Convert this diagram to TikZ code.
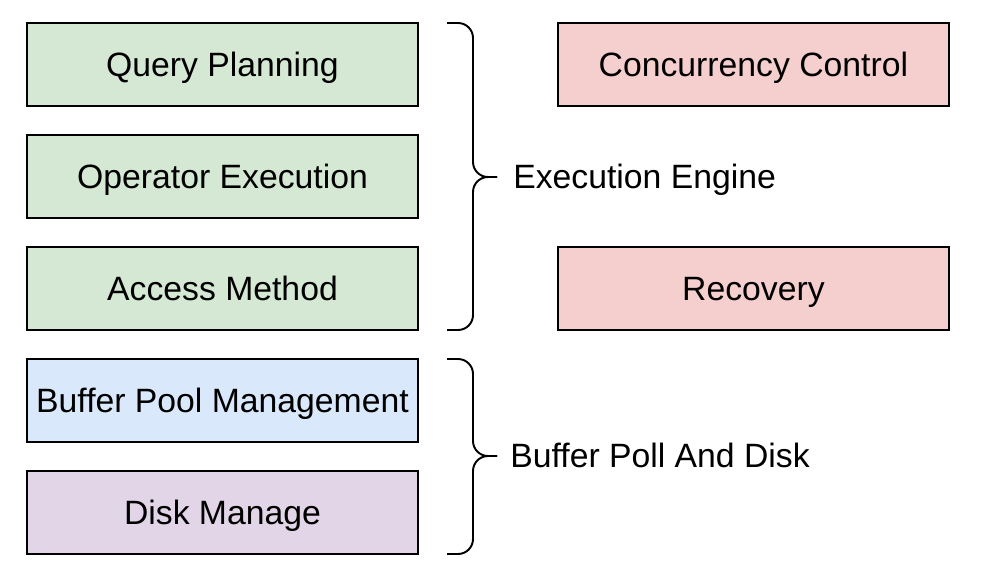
\documentclass[tikz,border=0pt]{standalone}
\usepackage{fontspec}
\setmainfont{Liberation Sans}
\usepackage{tikz}
\usetikzlibrary{positioning}
\definecolor{PlanGreen}{HTML}{D5E8D4}
\definecolor{PoolBlue}{HTML}{DAE8FC}
\definecolor{DiskPurple}{HTML}{E1D5E7}
\definecolor{TxnRed}{HTML}{F4CFCD}

\begin{document}
\begin{tikzpicture}[x=0.02cm,y=-0.02cm,node distance=0.58cm and 2.8cm]
\tikzstyle{block}=[rectangle,draw=black,line width=1.1pt,outer sep=0pt,minimum width=7.82cm,minimum height=1.66cm,inner sep=0pt,text height=13.8pt,text depth=0.5pt,font=\fontsize{19.2}{22}\selectfont]
\tikzstyle{curly}=[line width=1.1pt,rounded corners=0.3cm]
\tikzstyle{tag}=[anchor=west,inner sep=0pt,text height=13.8pt,text depth=0.5pt,font=\fontsize{19.2}{22}\selectfont]
\useasboundingbox (0,0) rectangle (982,584);
\node[block,fill=PlanGreen] (qp) at (222.5,64.5) {Query Planning};
\node[block,fill=PlanGreen,below=of qp] (oe) {Operator Execution};
\node[block,fill=PlanGreen,below=of oe] (am) {Access Method};
\node[block,fill=PoolBlue,below=of am] (bp) {Buffer Pool Management};
\node[block,fill=DiskPurple,below=of bp] (dm) {Disk Manage};
\node[block,fill=TxnRed,right=of qp] (cc) {Concurrency Control};
\node[block,fill=TxnRed,right=of am] (rc) {Recovery};
% braces on the right of the left column
\coordinate (t1) at (497,177);
\coordinate (t2) at (497,456);
\draw[curly] (447,23) -| (473,177) -- (t1);
\draw[curly] (447,330) -| (473,177) -- (t1);
\draw[curly] (447,359) -| (473,456) -- (t2);
\draw[curly] (447,554) -| (473,456) -- (t2);
\node[tag] (ee) at (513,177) {Execution Engine};
\node[tag] (bd) at (510,456) {Buffer Poll And Disk};
\end{tikzpicture}
\end{document}
